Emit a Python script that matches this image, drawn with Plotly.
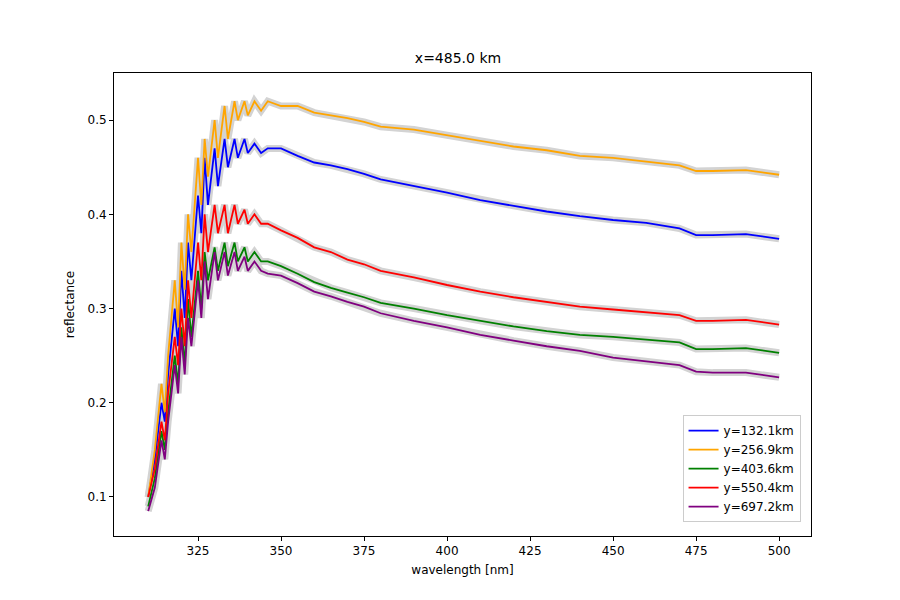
import plotly.graph_objects as go

wavelength = [310, 312, 314, 315, 316, 318, 319, 320, 321, 322, 323, 325, 326, 327, 328,
              330, 331, 333, 334, 336, 337, 339, 340, 342, 344, 346, 350, 355, 360, 365,
              370, 375, 380, 390, 400, 410, 420, 430, 440, 450, 460, 470, 475, 480, 490, 500]

refl_y132 = [.10, .14, .20, .18, .23, .30, .26, .34, .29, .37, .33, .42, .38, .46, .41,
             .47, .43, .48, .45, .48, .46, .48, .465, .475, .465, .47, .47, .462, .455, .452,
             .448, .443, .437, .43, .423, .415, .409, .403, .398, .394, .391, .385, .378, .378, .379, .374]
refl_y257 = [.10, .15, .22, .19, .25, .33, .28, .37, .32, .40, .36, .46, .41, .48, .44,
             .50, .46, .515, .48, .52, .50, .52, .505, .52, .51, .52, .515, .515, .508, .505,
             .502, .498, .493, .49, .484, .478, .472, .468, .462, .46, .456, .452, .446, .446, .447, .442]
refl_y404 = [.09, .12, .17, .15, .19, .25, .22, .28, .24, .31, .27, .34, .30, .36, .33,
             .365, .34, .37, .345, .37, .35, .365, .35, .36, .35, .35, .345, .337, .328, .322,
             .317, .312, .306, .30, .293, .287, .281, .276, .272, .27, .267, .264, .257, .257, .258, .253]
refl_y550 = [.10, .13, .18, .16, .21, .27, .24, .30, .26, .33, .29, .37, .33, .40, .36,
             .41, .38, .41, .38, .41, .39, .405, .39, .40, .39, .39, .383, .375, .365, .36,
             .352, .347, .34, .333, .325, .318, .312, .307, .302, .299, .296, .293, .287, .287, .288, .283]
refl_y697 = [.085, .11, .16, .14, .18, .24, .21, .27, .23, .29, .26, .33, .29, .35, .31,
             .36, .33, .36, .335, .36, .34, .355, .34, .35, .34, .337, .335, .327, .318, .313,
             .307, .302, .295, .287, .28, .272, .266, .26, .255, .248, .244, .24, .233, .232, .232, .227]

labels = ["y=132.1km", "y=256.9km", "y=403.6km", "y=550.4km", "y=697.2km"]
series = [refl_y132, refl_y257, refl_y404, refl_y550, refl_y697]
colors = ["blue", "orange", "green", "red", "purple"]

fig = go.Figure()
# grey uncertainty band behind each line
for vals in series:
    fig.add_trace(go.Scatter(x=wavelength, y=vals, mode="lines", showlegend=False,
                             line=dict(color="lightgrey", width=7), hoverinfo="skip"))
for vals, lab, col in zip(series, labels, colors):
    fig.add_trace(go.Scatter(x=wavelength, y=vals, mode="lines", name=lab,
                             line=dict(color=col, width=1.8)))

ax = dict(showgrid=False, zeroline=False, showline=True, linecolor="black", mirror=True,
          ticks="outside", ticklen=4, tickcolor="black", automargin=False,
          title_font=dict(size=12))
fig.update_layout(
    width=900, height=600,
    font=dict(family="DejaVu Sans", size=12, color="black"),
    title=dict(text="x=485.0 km", x=0.5, y=0.925, xanchor="center", font=dict(size=14)),
    plot_bgcolor="white", paper_bgcolor="white",
    margin=dict(l=106, r=97, t=65, b=72, pad=0),
    xaxis=dict(ax, title=dict(text="wavelength [nm]", standoff=8), range=[299.7, 509.6],
               tickvals=[325, 350, 375, 400, 425, 450, 475, 500]),
    yaxis=dict(ax, title=dict(text="reflectance", standoff=10), range=[0.0586, 0.55],
               tickvals=[0.1, 0.2, 0.3, 0.4, 0.5]),
    legend=dict(x=0.985, y=0.03, xanchor="right", yanchor="bottom", bordercolor="#ccc",
                borderwidth=1, bgcolor="white"),
)
fig.write_html("out.html")
